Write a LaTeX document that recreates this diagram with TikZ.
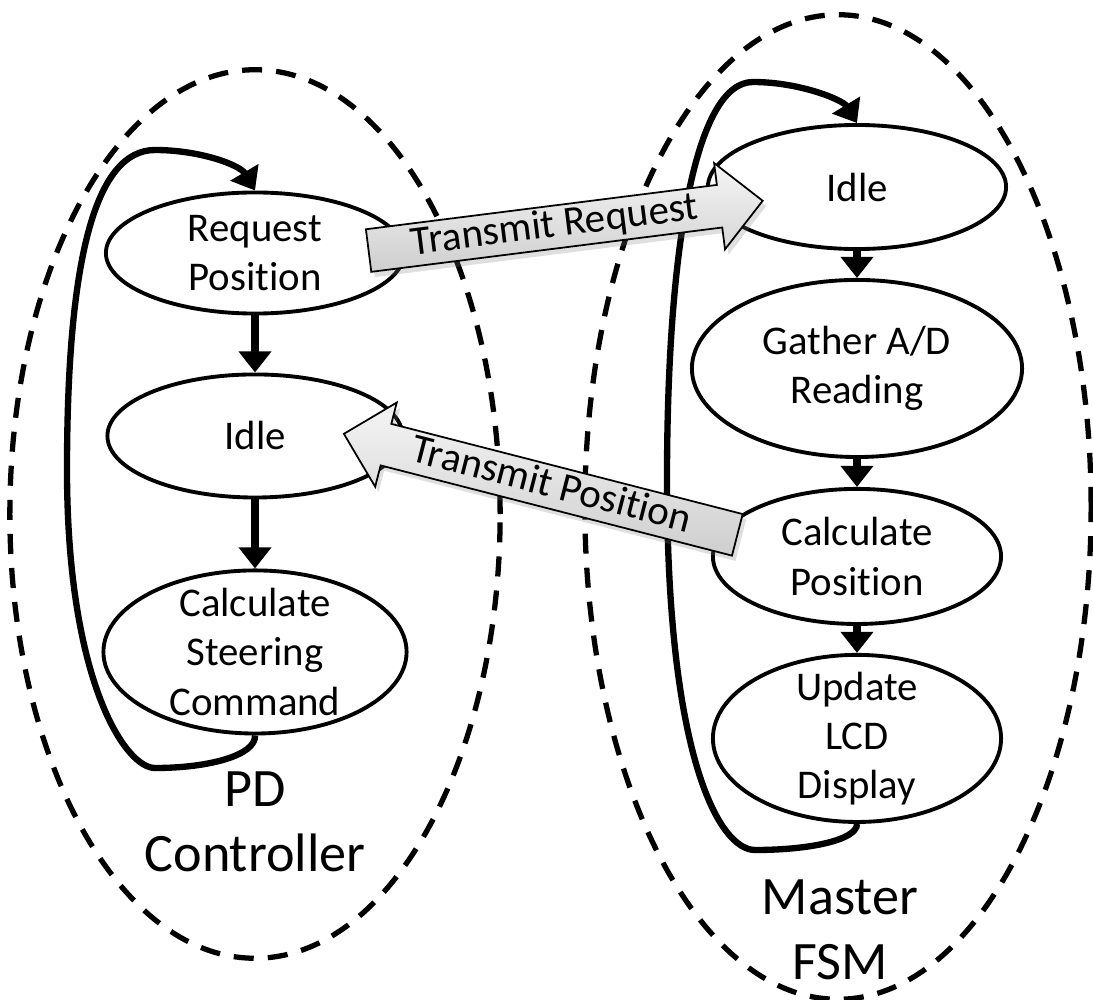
\documentclass[tikz,border=0pt]{standalone}
\usepackage{fontspec}
\setmainfont{Carlito}[Ligatures=NoCommon]
\usetikzlibrary{arrows.meta, positioning, shapes.geometric, shapes.arrows, shadows}

\begin{document}
\begin{tikzpicture}[x=0.01cm, y=-0.01cm, >={Triangle[width=9pt, length=6pt]},
  every node/.style={font=\fontsize{11.6pt}{14pt}\selectfont},
  state/.style={draw, ellipse, fill=white, line width=1.1pt, inner sep=0pt, align=center},
  flow/.style={->, line width=2pt},
  loopback/.style={->, line width=1.8pt},
  group/.style={line width=1.5pt, dash pattern=on 5.7pt off 4pt},
  msg/.style={single arrow, draw, line width=0.5pt, top color=gray!8, bottom color=gray!38,
    drop shadow={opacity=0.25, shadow xshift=1pt, shadow yshift=-1.5pt},
    single arrow head extend=0.22cm, single arrow tip angle=90,
    inner xsep=2pt, inner ysep=0.5pt, text height=8.2pt, text depth=2.5pt,
    font=\fontsize{11.7pt}{13pt}\selectfont},
  owner/.style={align=center, font=\fontsize{15.4pt}{18.5pt}\selectfont}]
  \useasboundingbox (0,0) rectangle (1093,1000);

  % dashed outlines of the two controllers
  \draw[group] (255,514) ellipse [x radius=2.45cm, y radius=4.44cm];
  \draw[group] (838,507) ellipse [x radius=2.53cm, y radius=4.92cm];

  % PD controller
  \node[state, minimum width=2.98cm, minimum height=1.21cm] (RP) at (255,253) {Request\\Position};
  \node[state, minimum width=2.95cm, minimum height=1.23cm, below=0.57cm of RP] (IdleL) {Idle};
  \node[state, minimum width=3.03cm, minimum height=1.63cm, inner ysep=-4pt, below=0.69cm of IdleL] (CSC) {Calculate\\Steering\\Command};
  \node[owner] (pd) at (255,822) {PD\\Controller};

  % master FSM
  \node[state, minimum width=2.98cm, minimum height=1.24cm] (IdleR) at (857,187) {Idle};
  \node[state, minimum width=3.30cm, minimum height=1.77cm, below=0.27cm of IdleR] (GAD) {Gather A/D\\Reading};
  \node[state, minimum width=2.88cm, minimum height=1.35cm, below=0.28cm of GAD] (CP) {Calculate\\Position};
  \node[state, minimum width=2.88cm, minimum height=1.67cm, inner ysep=-4pt, below=0.27cm of CP] (ULD) {Update\\LCD\\Display};
  \node[owner] (fsm) at (840,930) {Master\\FSM};

  \draw[flow] (RP) -- (IdleL);
  \draw[flow] (IdleL) -- (CSC);
  \draw[flow] (IdleR) -- (GAD);
  \draw[flow] (GAD) -- (CP);
  \draw[flow] (CP) -- (ULD);

  % back to the first state
  \draw[loopback] (CSC.south) .. controls (256,755) and (210,768) .. (155,768)
    .. controls (125,768) and (67,680) .. (67,470)
    .. controls (67,260) and (95,150) .. (155,150)
    .. controls (200,150) and (240,165) .. (RP.north);
  \draw[loopback] (ULD.south) .. controls (857,840) and (810,850) .. (755,850)
    .. controls (720,850) and (667,760) .. (667,480)
    .. controls (667,250) and (695,82) .. (753,82)
    .. controls (800,82) and (843,100) .. (IdleR.north);

  % messages between the two
  \node[msg, rotate=7.2, minimum height=3.97cm] (txreq) at (555,227) {Transmit Request};
  \node[msg, rotate=-14.4, shape border rotate=180, minimum height=4.06cm] (txpos) at (551,487) {Transmit Position};
\end{tikzpicture}
\end{document}
